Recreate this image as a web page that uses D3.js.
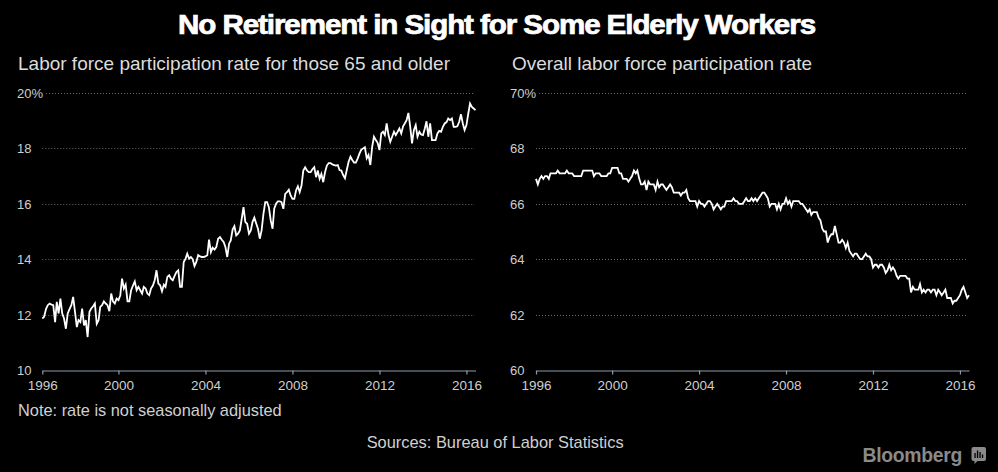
<!DOCTYPE html>
<html>
<head>
<meta charset="utf-8">
<script src="https://cdn.jsdelivr.net/npm/d3@7"></script>
<style>
  html, body { margin: 0; padding: 0; background: #000; }
  svg { display: block; }
  text { font-family: "Liberation Sans", Arial, sans-serif; }
</style>
</head>
<body>
<svg id="chart" width="998" height="472"></svg>
<script>
// ---------------- DATA ----------------
const title = "No Retirement in Sight for Some Elderly Workers";
const leftSubtitle = "Labor force participation rate for those 65 and older";
const rightSubtitle = "Overall labor force participation rate";
const noteText = "Note: rate is not seasonally adjusted";
const sourceText = "Sources: Bureau of Labor Statistics";
const brandText = "Bloomberg";

// Monthly series, July 1996 - June 2016
const seriesStart = "1996-07";
const olderRate = [
  11.86, 11.92, 12.20, 12.34, 12.40, 12.36, 12.34, 11.73, 12.46, 12.04, 12.58, 12.04,
  11.86, 11.49, 12.04, 12.20, 12.34, 12.64, 12.10, 11.55, 11.80, 11.73, 12.22, 11.61,
  11.80, 11.19, 12.10, 12.22, 12.30, 12.40, 11.67, 11.80, 12.28, 12.34, 12.48, 12.40,
  12.34, 12.12, 12.76, 12.48, 12.40, 12.58, 12.52, 12.70, 13.30, 12.94, 13.08, 12.48,
  12.48, 12.88, 13.05, 13.20, 12.88, 13.00, 12.88, 12.76, 13.00, 12.94, 12.76, 12.70,
  12.94, 13.05, 13.24, 13.60, 13.12, 13.06, 12.84, 13.08, 13.00, 13.36, 13.42, 13.30,
  13.24, 13.40, 13.54, 13.60, 13.00, 13.00, 13.90, 14.02, 14.20, 14.02, 14.08, 14.00,
  13.75, 13.90, 14.15, 14.10, 14.08, 14.08, 14.10, 14.14, 14.71, 14.26, 14.42, 14.35,
  14.44, 14.74, 14.80, 14.70, 14.62, 14.44, 14.08, 14.56, 14.68, 15.07, 15.19, 14.86,
  14.92, 15.04, 15.46, 15.88, 15.34, 15.28, 14.92, 15.04, 15.34, 15.50, 15.30, 15.10,
  14.74, 15.04, 15.64, 16.06, 16.06, 15.88, 15.40, 15.10, 15.82, 16.00, 16.09, 16.09,
  16.06, 15.82, 16.36, 16.42, 16.51, 16.30, 16.18, 16.18, 16.48, 16.63, 16.42, 16.66,
  17.20, 17.32, 17.20, 17.14, 17.14, 17.25, 17.32, 16.96, 17.20, 16.90, 17.08, 16.78,
  17.14, 17.38, 17.47, 17.47, 17.42, 17.40, 17.38, 17.40, 17.22, 17.20, 17.04, 16.92,
  17.22, 17.52, 17.70, 17.58, 17.49, 17.49, 17.64, 17.82, 17.95, 18.00, 18.04, 17.64,
  17.76, 17.40, 18.06, 18.42, 18.30, 18.20, 17.94, 18.54, 18.60, 18.48, 18.90, 18.48,
  18.24, 18.42, 18.60, 18.48, 18.60, 18.72, 18.54, 18.80, 18.90, 19.02, 19.28, 18.78,
  18.18, 18.66, 18.84, 18.42, 18.60, 18.50, 18.48, 18.72, 18.98, 18.42, 18.90, 18.30,
  18.30, 18.30, 18.54, 18.63, 18.60, 18.78, 18.90, 18.95, 19.08, 19.02, 19.08, 18.78,
  18.78, 18.80, 18.96, 19.23, 18.90, 18.66, 18.84, 19.26, 19.62, 19.50, 19.44, 19.38
];
const overallRate = [
  66.9, 66.7, 66.9, 67.0, 66.9, 67.0,
  67.0, 66.9, 67.1, 67.1, 67.1, 67.1, 67.2, 67.1, 67.1, 67.1, 67.1, 67.2,
  67.1, 67.1, 67.1, 67.0, 67.0, 67.0, 67.0, 67.0, 67.2, 67.2, 67.2, 67.2,
  67.2, 67.2, 67.0, 67.1, 67.1, 67.1, 67.0, 67.0, 67.0, 67.0, 67.1, 67.1,
  67.3, 67.3, 67.3, 67.3, 67.1, 67.1, 66.9, 66.9, 66.9, 66.8, 66.9, 67.0,
  67.2, 67.1, 67.2, 66.9, 66.7, 66.7, 66.8, 66.5, 66.8, 66.7, 66.7, 66.7,
  66.5, 66.8, 66.6, 66.7, 66.7, 66.6, 66.5, 66.6, 66.7, 66.6, 66.4, 66.4,
  66.4, 66.4, 66.3, 66.4, 66.4, 66.5, 66.2, 66.1, 66.1, 66.1, 66.1, 65.9,
  66.1, 66.0, 66.0, 65.9, 66.0, 66.1, 66.1, 66.0, 65.8, 65.9, 66.0, 65.9,
  65.8, 65.9, 65.9, 66.1, 66.1, 66.1, 66.1, 66.2, 66.1, 66.1, 66.0, 66.0,
  66.0, 66.1, 66.2, 66.1, 66.1, 66.2, 66.1, 66.2, 66.1, 66.2, 66.3, 66.4,
  66.4, 66.3, 66.2, 65.9, 66.0, 66.0, 66.0, 65.8, 66.0, 65.8, 66.0, 66.0,
  66.2, 66.0, 66.1, 65.9, 66.1, 66.1, 66.1, 66.1, 66.0, 66.0, 65.9, 65.8,
  65.7, 65.8, 65.6, 65.7, 65.7, 65.7, 65.5, 65.4, 65.1, 65.0, 65.0, 64.6,
  64.8, 64.9, 64.9, 65.2, 64.9, 64.6, 64.6, 64.7, 64.6, 64.4, 64.6, 64.3,
  64.2, 64.1, 64.2, 64.2, 64.1, 64.0, 64.0, 64.1, 64.2, 64.1, 64.1, 64.0,
  63.7, 63.8, 63.8, 63.7, 63.8, 63.8, 63.7, 63.5, 63.6, 63.8, 63.6, 63.7,
  63.6, 63.4, 63.3, 63.4, 63.4, 63.4, 63.4, 63.3, 63.3, 62.8, 63.0, 62.9,
  62.9, 62.9, 63.1, 62.8, 62.9, 62.8, 62.9, 62.9, 62.8, 62.9, 62.9, 62.7,
  62.9, 62.8, 62.7, 62.8, 62.9, 62.6, 62.6, 62.6, 62.4, 62.5, 62.5, 62.6,
  62.7, 62.9, 63.0, 62.8, 62.6, 62.7
];
const xTickYears = ["1996", "2000", "2004", "2008", "2012", "2016"];
const leftYTicks = [10, 12, 14, 16, 18, 20];
const rightYTicks = [60, 62, 64, 66, 68, 70];

// ---------------- DRAW ----------------
const svg = d3.select("#chart");
const parseMonth = d3.timeParse("%Y-%m");
const start = parseMonth(seriesStart);
const dates = olderRate.map((_, i) => d3.timeMonth.offset(start, i));
const end = dates[dates.length - 1];

// fit text to a target width by adjusting font size
function fitText(sel, targetW) {
  const fs = parseFloat(sel.attr("font-size"));
  const w = sel.node().getComputedTextLength();
  sel.attr("font-size", (fs * targetW / w).toFixed(2));
}

// Title
svg.append("text")
  .attr("x", 178).attr("y", 34)
  .attr("font-size", 27).attr("font-weight", "bold")
  .attr("fill", "#fff")
  .attr("stroke", "#fff").attr("stroke-width", 0.7)
  .attr("textLength", 637).attr("lengthAdjust", "spacingAndGlyphs")
  .style("letter-spacing", "-1px")
  .text(title);

function panel(opts) {
  const g = svg.append("g");
  const x = d3.scaleTime().domain([start, end]).range([opts.x0, opts.x1]);
  const y = d3.scaleLinear().domain(opts.yDomain).range([370, 93]);

  // subtitle
  const st = g.append("text")
    .attr("x", opts.subX).attr("y", 70)
    .attr("font-size", 17).attr("fill", "#dcdcdc")
    .text(opts.subtitle);
  fitText(st, opts.subW);

  // y labels and gridlines
  opts.yTicks.forEach((t, i) => {
    const last = i === opts.yTicks.length - 1;
    const lbl = g.append("text")
      .attr("x", opts.labelX).attr("y", y(t) + 5)
      .attr("font-size", 13).attr("fill", "#cfcfcf")
      .text(last ? t + "%" : t);
    const lw = lbl.node().getComputedTextLength();
    if (i > 0) {
      g.append("line")
        .attr("x1", Math.max(opts.x0, opts.labelX + lw + 3))
        .attr("x2", opts.x1 - 1)
        .attr("y1", Math.round(y(t)) + 0.5).attr("y2", Math.round(y(t)) + 0.5)
        .attr("stroke", "#6a6a6a").attr("stroke-width", 1)
        .attr("stroke-dasharray", "1,2");
    }
  });

  // x axis
  const tickDates = xTickYears.map((yr, i) => i === 0 ? start : new Date(+yr, 0, 1));
  const axis = d3.axisBottom(x)
    .tickValues(tickDates)
    .tickFormat((d, i) => xTickYears[i])
    .tickSizeInner(4).tickSizeOuter(0).tickPadding(6);
  const ax = g.append("g").attr("transform", "translate(0,370.5)").call(axis);
  ax.select(".domain").attr("stroke", "#8d9aa8").attr("stroke-width", 1.2);
  ax.selectAll(".tick line").attr("stroke", "#8d9aa8").attr("stroke-width", 1.2);
  ax.selectAll(".tick text")
    .attr("fill", "#cfcfcf").attr("font-size", 13.5)
    .attr("font-family", "'Liberation Sans', Arial, sans-serif");

  // line
  const line = d3.line()
    .x((d, i) => x(dates[i]))
    .y(d => y(d));
  g.append("path")
    .datum(opts.values)
    .attr("d", line)
    .attr("fill", "none")
    .attr("stroke", "#fff")
    .attr("stroke-width", 1.8)
    .attr("stroke-linejoin", "miter");
}

panel({
  x0: 42.3, x1: 475.5, yDomain: [10, 20], yTicks: leftYTicks,
  labelX: 17, subX: 18, subW: 432, subtitle: leftSubtitle, values: olderRate
});
panel({
  x0: 536, x1: 969, yDomain: [60, 70], yTicks: rightYTicks,
  labelX: 510, subX: 512, subW: 300, subtitle: rightSubtitle, values: overallRate
});

// note
const nt = svg.append("text")
  .attr("x", 18).attr("y", 415.5)
  .attr("font-size", 15).attr("fill", "#d0d0d0")
  .text(noteText);
fitText(nt, 264);

// sources
const sr = svg.append("text")
  .attr("x", 366.7).attr("y", 448)
  .attr("font-size", 15).attr("fill", "#d0d0d0")
  .text(sourceText);
fitText(sr, 257);

// Bloomberg logo
const br = svg.append("text")
  .attr("x", 862.5).attr("y", 462)
  .attr("font-size", 19).attr("font-weight", "bold")
  .attr("fill", "#8a8a8a")
  .style("letter-spacing", "-0.3px")
  .text(brandText);
fitText(br, 99.5);

const icon = svg.append("g").attr("transform", "translate(971.5,447)");
icon.append("rect").attr("x", 0).attr("y", 0).attr("width", 14.5).attr("height", 14)
  .attr("rx", 2).attr("fill", "#8a8a8a");
icon.append("path").attr("d", "M3,13.5 L3,17 L6.5,13.5 Z").attr("fill", "#8a8a8a");
[[3.5, 6], [6, 3.5], [8.5, 5], [11, 7.5]].forEach(([bx, by]) => {
  icon.append("rect").attr("x", bx - 0.6).attr("y", by).attr("width", 1.3)
    .attr("height", 11 - by).attr("fill", "#000");
});
</script>
</body>
</html>
